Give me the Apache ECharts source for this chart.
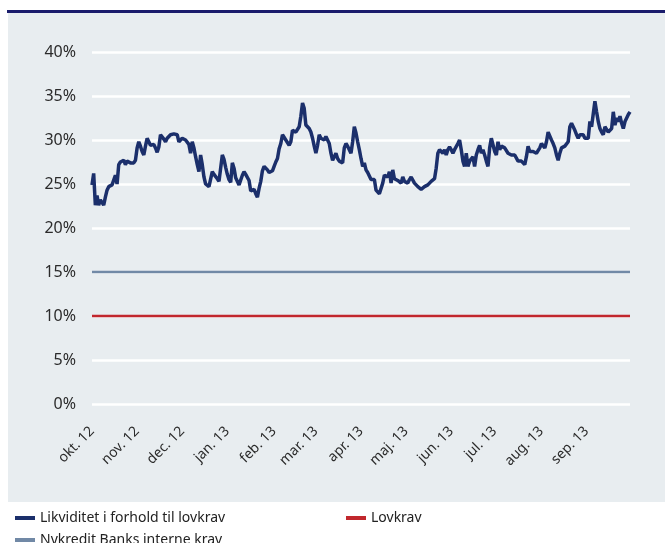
<!DOCTYPE html>
<html>
<head>
<meta charset="utf-8">
<script src="https://cdn.jsdelivr.net/npm/echarts@6/dist/echarts.min.js"></script>
<style>
html,body{margin:0;padding:0;background:#fff;}
#chart{width:665px;height:543px;}
</style>
</head>
<body>
<div id="chart"></div>
<script>
// Month tick labels
const monthLabels = ['okt. 12','nov. 12','dec. 12','jan. 13','feb. 13','mar. 13','apr. 13','maj. 13','jun. 13','jul. 13','aug. 13','sep. 13'];

// Daily liquidity (% of legal requirement), per month
const okt12 = [24.9,26.2,22.6,23.7,22.6,23.2,23.1,22.6,23.5,24.3,24.7,24.8,24.9,25.0,26.0,25.0,27.2,27.5,27.6,27.7,27.2,27.6,27.4,27.4,27.4,27.4,27.7];
const nov12 = [29.1,29.8,29.3,28.7,28.3,29.3,30.2,29.8,29.4,29.3,29.5,29.1,28.6,29.2,30.6,30.4,30.1,29.8,30.2,30.4,30.6,30.8,30.7,30.6,30.6,29.8,29.6];
const dec12 = [30.2,30.1,30.0,29.8,29.5,28.5,29.8,29.1,28.1,27.2,26.4,28.3,27.2,25.8,25.0,24.8,24.7,24.9,26.4,26.1,25.9,25.6,25.3,25.1,28.3,27.8,26.9];
const jan13 = [26.1,25.5,25.2,27.4,26.8,25.7,25.5,24.9,24.7,26.0,26.4,26.1,25.9,25.4,24.2,24.1,24.4,23.9,23.5,24.5,25.3,26.5,27.0,26.9,26.6,26.3,26.3,26.5];
const feb13 = [27.0,27.5,27.9,29.0,29.6,30.6,30.4,30.0,30.2,29.4,29.8,31.1,31.3,30.9,31.1,31.5,32.7,34.2,33.6,31.7,31.5,31.3,30.9,30.2,29.3];
const mar13 = [28.5,29.4,30.6,30.2,30.4,30.0,30.4,30.2,29.6,28.5,27.7,27.7,28.5,27.9,27.6,27.4,27.4,29.1,29.6,29.3,28.9,28.5,29.8,31.5,30.8,29.8,28.9];
const apr13 = [27.9,27.0,27.4,26.6,26.3,26.1,25.5,25.3,25.5,24.3,24.1,23.9,23.7,25.1,26.0,26.2,25.8,26.4,25.1,26.6,25.6,25.5,25.4,25.3,25.1,25.8,25.3];
const maj13 = [25.5,25.1,25.5,25.8,25.8,25.1,24.9,24.7,24.5,24.4,24.5,24.7,24.7,24.9,25.1,25.3,25.5,25.6,26.8,28.5,28.9,28.7,28.5,28.9,28.3,28.9,29.2];
const jun13 = [28.9,28.5,28.9,29.1,29.6,30.0,28.9,27.6,27.0,28.5,27.0,27.6,27.6,28.1,27.0,28.3,28.9,29.4,28.5,28.9,28.3,27.6,27.0,29.1,30.2,30.0];
const jul13 = [28.7,28.3,29.8,28.9,29.3,29.3,29.1,28.9,28.5,28.3,28.3,28.3,28.3,28.1,27.6,27.7,27.6,27.4,27.2,28.1,29.3,28.7,28.5,28.7,28.7,28.5,28.3,29.1];
const aug13 = [29.6,29.4,29.1,29.8,30.9,30.8,30.0,29.6,29.1,28.3,27.7,28.5,29.1,29.3,29.3,29.4,29.8,31.5,31.9,31.7,31.1,30.6,30.2,30.6,30.4,30.6,30.2];
const sep13 = [30.4,30.2,32.1,31.5,31.3,34.4,33.2,32.1,31.3,30.9,30.6,31.5,31.3,30.9,30.8,31.3,33.2,31.7,32.5,32.1,32.7,31.9,31.3,32.1,32.5,32.9,33.2];

// Requirement levels (%)
const lovkravLevel = 10;
const interneKravLevel = 15;

// Y-axis ticks
const yTicks = [0,5,10,15,20,25,30,35,40];

const monthly = [okt12,nov12,dec12,jan13,feb13,mar13,apr13,maj13,jun13,jul13,aug13,sep13];
const categories = [];
const likviditet = [];
monthly.forEach((arr, m) => {
  arr.forEach((v, i) => {
    categories.push(monthLabels[m] + '|' + i);
    likviditet.push(v);
  });
});
const lovkrav = categories.map(() => lovkravLevel);
const interneKrav = categories.map(() => interneKravLevel);

const NAVY = '#1b2f6b';
const RED = '#c1272d';
const GREYBLUE = '#7189a6';
const FONT = 'Noto Sans';

const chart = echarts.init(document.getElementById('chart'), null, {renderer: 'canvas'});
chart.setOption({
  animation: false,
  backgroundColor: '#ffffff',
  textStyle: {fontFamily: FONT},
  graphic: {
    elements: [
      {type: 'rect', z: -10, shape: {x: 7, y: 10, width: 658, height: 3}, style: {fill: '#1a1c6c'}},
      {type: 'rect', z: -10, shape: {x: 8, y: 13, width: 657, height: 489}, style: {fill: '#e8edf0'}}
    ]
  },
  grid: {left: 92, right: 35, top: 52, bottom: 139, containLabel: false},
  xAxis: {
    type: 'category',
    data: categories,
    boundaryGap: false,
    axisLine: {show: false},
    axisTick: {show: false},
    splitLine: {show: false},
    axisLabel: {
      interval: (idx, val) => val.endsWith('|0'),
      formatter: (val) => val.split('|')[0],
      rotate: 45,
      margin: 25,
      color: '#2b2b2b',
      fontSize: 14,
      fontFamily: FONT
    }
  },
  yAxis: {
    type: 'value',
    min: yTicks[0],
    max: yTicks[yTicks.length - 1],
    interval: 5,
    axisLine: {show: false},
    axisTick: {show: false},
    splitLine: {show: true, lineStyle: {color: '#ffffff', width: 2.5}},
    axisLabel: {
      formatter: '{value}%',
      margin: 16,
      color: '#2b2b2b',
      fontSize: 16,
      fontFamily: FONT
    }
  },
  legend: [
    {
      data: ['Likviditet i forhold til lovkrav'],
      left: 10, top: 506,
      icon: 'rect', itemWidth: 20, itemHeight: 4, itemGap: 6,
      textStyle: {color: '#222', fontSize: 14, fontFamily: FONT}
    },
    {
      data: ['Lovkrav'],
      left: 341, top: 506,
      icon: 'rect', itemWidth: 20, itemHeight: 4,
      textStyle: {color: '#222', fontSize: 14, fontFamily: FONT}
    },
    {
      data: ['Nykredit Banks interne krav'],
      left: 10, top: 528,
      icon: 'rect', itemWidth: 20, itemHeight: 4,
      textStyle: {color: '#222', fontSize: 14, fontFamily: FONT}
    }
  ],
  series: [
    {
      name: 'Nykredit Banks interne krav',
      type: 'line', data: interneKrav, symbol: 'none',
      lineStyle: {color: GREYBLUE, width: 2.5}, itemStyle: {color: GREYBLUE}
    },
    {
      name: 'Lovkrav',
      type: 'line', data: lovkrav, symbol: 'none',
      lineStyle: {color: RED, width: 2.5}, itemStyle: {color: RED}
    },
    {
      name: 'Likviditet i forhold til lovkrav',
      type: 'line', data: likviditet, symbol: 'none',
      lineStyle: {color: NAVY, width: 3.5}, itemStyle: {color: NAVY}
    }
  ]
});
</script>
</body>
</html>
